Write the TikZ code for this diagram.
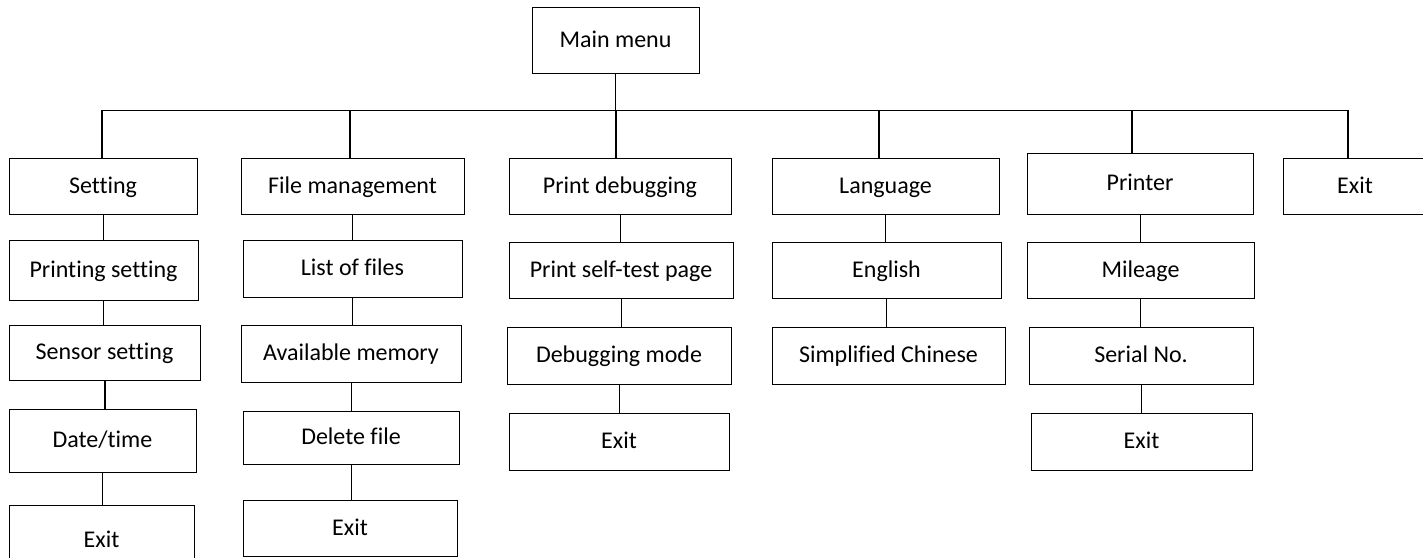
\documentclass[tikz,border=0pt]{standalone}
\usepackage{fontspec}
\setmainfont{Carlito}[Ligatures=NoCommon]
\begin{document}
\begin{tikzpicture}[x=1pt,y=-1pt,
  box/.style={draw=black,line width=1pt,rectangle,inner sep=0pt,font=\fontsize{24}{28}\selectfont,text=black,text height=14pt,text depth=0pt},
  link/.style={draw=black,line width=1pt},
  stem/.style={draw=black,line width=2pt}]
\useasboundingbox (0,0) rectangle (1423,557);
\begin{scope}
\clip (0,0) rectangle (1423,557);
% Main
\node[box,minimum width=167pt,minimum height=66pt] (main) at (615.5,40) {Main menu};
% column 1
\node[box,minimum width=188pt,minimum height=56pt] (setting) at (103,186) {Setting};
\node[box,minimum width=189pt,minimum height=60pt] (printset) at (103.5,270) {Printing setting};
\node[box,minimum width=191pt,minimum height=55pt] (sensor) at (104.5,352.5) {Sensor setting};
\node[box,minimum width=187pt,minimum height=63pt] (date) at (102.5,440.5) {Date/time};
\node[box,minimum width=185pt,minimum height=70pt] (exitA) at (101.5,540) {Exit};
% column 2
\node[box,minimum width=223pt,minimum height=56pt] (filem) at (352.5,186) {File management};
\node[box,minimum width=219pt,minimum height=57pt] (list) at (352.5,268.5) {List of files};
\node[box,minimum width=220pt,minimum height=57pt] (avail) at (351,353.5) {Available memory};
\node[box,minimum width=216pt,minimum height=53pt] (delete) at (351,437.5) {Delete file};
\node[box,minimum width=214pt,minimum height=56pt] (exitB) at (350,528) {Exit};
% column 3
\node[box,minimum width=222pt,minimum height=56pt] (pdebug) at (620,186) {Print debugging};
\node[box,minimum width=224pt,minimum height=56pt] (selftest) at (621,270) {Print self-test page};
\node[box,minimum width=224pt,minimum height=57pt] (dmode) at (619,355.5) {Debugging mode};
\node[box,minimum width=220pt,minimum height=57pt] (exitC) at (619,441.5) {Exit};
% column 4
\node[box,minimum width=227pt,minimum height=56pt] (lang) at (885.5,186) {Language};
\node[box,minimum width=229pt,minimum height=56pt] (english) at (886.5,270) {English};
\node[box,minimum width=233pt,minimum height=57pt] (chinese) at (888.5,355.5) {Simplified Chinese};
% column 5
\node[box,minimum width=226pt,minimum height=61pt] (printer) at (1140,183.5) {Printer};
\node[box,minimum width=227pt,minimum height=56pt] (mileage) at (1140.5,270) {Mileage};
\node[box,minimum width=224pt,minimum height=57pt] (serial) at (1141,355.5) {Serial No.};
\node[box,minimum width=221pt,minimum height=57pt] (exitD) at (1141.5,441.5) {Exit};
% column 6
\node[box,minimum width=144pt,minimum height=56pt] (exitE) at (1355,186) {Exit};
% bus
\coordinate (bus) at (616,110);
\coordinate (busL) at (102,110);
\coordinate (busR) at (1348,110);
\draw[link] (main.south) -- (main.south |- bus);
\draw[link] (busL) -- (busR);
\draw[stem] (busL) -- (busL |- setting.north);
\draw[stem] (350,110) coordinate (b2) -- (b2 |- filem.north);
\draw[stem] (bus) -- (bus |- pdebug.north);
\draw[stem] (879,110) coordinate (b4) -- (b4 |- lang.north);
\draw[stem] (1132,110) coordinate (b5) -- (b5 |- printer.north);
\draw[stem] (busR) -- (busR |- exitE.north);
% column links
\draw[link] (setting.south) -- (setting.south |- printset.north);
\draw[link] (printset.south) -- (printset.south |- sensor.north);
\draw[stem] (sensor.south) -- (sensor.south |- date.north);
\draw[link] (date.south) -- (date.south |- exitA.north);
\draw[link] (filem.south) -- (filem.south |- list.north);
\draw[link] (list.south) -- (list.south |- avail.north);
\draw[link] (avail.south) -- (avail.south |- delete.north);
\draw[link] (delete.south) -- (delete.south |- exitB.north);
\draw[link] (pdebug.south) -- (pdebug.south |- selftest.north);
\draw[link] (selftest.south) -- (selftest.south |- dmode.north);
\draw[link] (dmode.south) -- (dmode.south |- exitC.north);
\draw[link] (lang.south) -- (lang.south |- english.north);
\draw[link] (english.south) -- (english.south |- chinese.north);
\draw[link] (printer.south) -- (printer.south |- mileage.north);
\draw[link] (mileage.south) -- (mileage.south |- serial.north);
\draw[link] (serial.south) -- (serial.south |- exitD.north);
\end{scope}
\end{tikzpicture}
\end{document}
